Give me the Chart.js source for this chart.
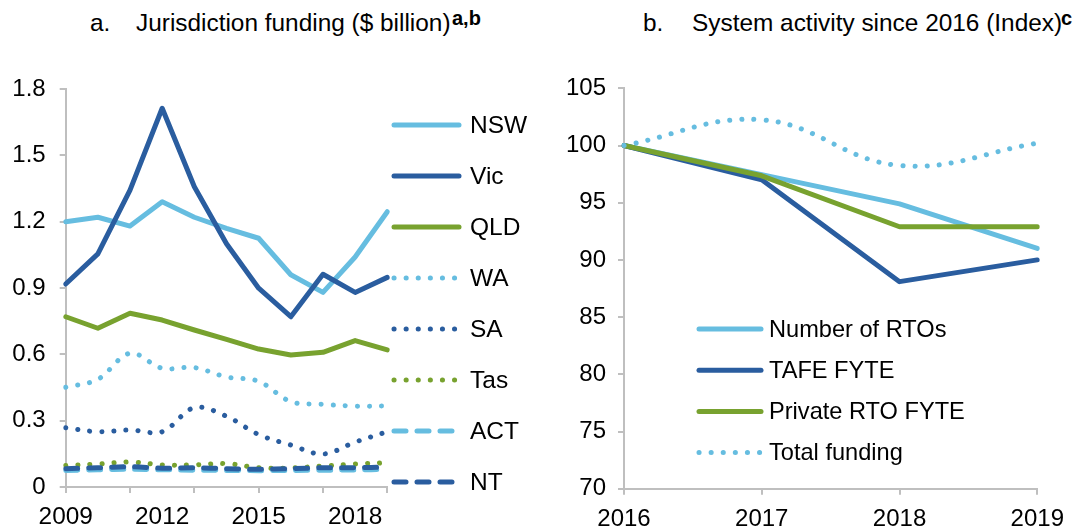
<!DOCTYPE html>
<html>
<head>
<meta charset="utf-8">
<script src="https://cdn.jsdelivr.net/npm/chart.js@4/dist/chart.umd.min.js"></script>
<style>
  html, body { margin: 0; padding: 0; background: #fff; }
  body { width: 1091px; height: 529px; position: relative; overflow: hidden; font-family: 'Liberation Sans', Arial, sans-serif; color: #000; }
  .t { position: absolute; font-size: 24.4px; line-height: 28px; white-space: nowrap; }
  .s { position: absolute; font-size: 20px; font-weight: bold; line-height: 20px; white-space: nowrap; }
  canvas { position: absolute; top: 0; }
</style>
</head>
<body>
<div class="t" style="left:90px; top:9px;">a.</div>
<div class="t" style="left:136px; top:9px;">Jurisdiction funding ($ billion)</div>
<div class="s" style="left:452px; top:8px;">a,b</div>
<div class="t" style="left:643px; top:9px;">b.</div>
<div class="t" style="left:692px; top:9px;">System activity since 2016 (Index)</div>
<div class="s" style="left:1061px; top:8px;">c</div>

<canvas id="left" width="545" height="529" style="left:0; width:545px; height:529px;"></canvas>
<canvas id="right" width="546" height="529" style="left:545px; width:546px; height:529px;"></canvas>

<script>
// ---------- Data ----------
const years = ['2009','2010','2011','2012','2013','2014','2015','2016','2017','2018','2019'];
const nsw = [1.20, 1.22, 1.18, 1.29, 1.22, 1.17, 1.125, 0.96, 0.88, 1.04, 1.245];
const vic = [0.918, 1.054, 1.343, 1.713, 1.358, 1.10, 0.899, 0.77, 0.962, 0.88, 0.948];
const qld = [0.77, 0.718, 0.786, 0.755, 0.71, 0.668, 0.624, 0.597, 0.609, 0.662, 0.62];
const wa  = [0.451, 0.487, 0.605, 0.537, 0.54, 0.4975, 0.478, 0.386, 0.374, 0.366, 0.366];
const sa  = [0.268, 0.25, 0.258, 0.25, 0.359, 0.32, 0.237, 0.19, 0.149, 0.203, 0.25];
const tas = [0.097, 0.104, 0.113, 0.1, 0.1, 0.106, 0.087, 0.086, 0.095, 0.104, 0.11];
const act = [0.075, 0.078, 0.08, 0.078, 0.076, 0.075, 0.074, 0.075, 0.076, 0.077, 0.08];
const nt  = [0.083, 0.087, 0.092, 0.085, 0.087, 0.083, 0.08, 0.083, 0.087, 0.087, 0.09];
const leftTicks = [0, 0.3, 0.6, 0.9, 1.2, 1.5, 1.8];

const years2 = ['2016','2017','2018','2019'];
const numRTOs    = [100, 97.45, 94.9, 91.0];
const tafeFYTE   = [100, 97.0, 88.1, 90.0];
const privateRTO = [100, 97.35, 92.9, 92.9];
const totalFund  = [100, 102.25, 98.25, 100.2];
const rightTicks = [70, 75, 80, 85, 90, 95, 100, 105];

// ---------- Styles ----------
const LIGHT = '#66BDE0';
const DARK  = '#2A5D9F';
const GREEN = '#78A22F';
const AXIS  = '#BFBFBF';
const FONT  = "'Liberation Sans', Arial, sans-serif";
const DOT = [0.1, 12];
const DASH = [12, 11];

Chart.defaults.font.family = FONT;
Chart.defaults.font.size = 24;
Chart.defaults.color = '#000';

function ds(label, data, color, dash, tension) {
  return {
    label, data, borderColor: color, backgroundColor: color,
    borderWidth: 5, borderDash: dash || [], borderCapStyle: 'round', borderJoinStyle: 'round',
    pointRadius: 0, pointHoverRadius: 0, tension: tension || 0, fill: false
  };
}

function legendPlugin(cfg) {
  return {
    id: 'customLegend',
    afterDraw(chart) {
      const ctx = chart.ctx;
      chart.data.datasets.forEach((d, i) => {
        const y = cfg.y0 + cfg.dy * i;
        ctx.save();
        ctx.strokeStyle = d.borderColor;
        ctx.lineWidth = d.borderWidth;
        ctx.lineCap = 'round';
        ctx.setLineDash(d.borderDash || []);
        ctx.beginPath();
        ctx.moveTo(cfg.x0, y);
        ctx.lineTo(cfg.x1, y);
        ctx.stroke();
        ctx.setLineDash([]);
        ctx.fillStyle = '#000';
        ctx.font = cfg.size + 'px ' + FONT;
        ctx.textAlign = 'left';
        ctx.textBaseline = 'middle';
        ctx.fillText(d.label, cfg.tx, y + 1);
        ctx.restore();
      });
    }
  };
}

function orderTop(list) {
  list.forEach((d, i) => d.order = -i);
  return list;
}

// ---------- Left chart ----------
new Chart(document.getElementById('left'), {
  type: 'line',
  data: {
    labels: years,
    datasets: orderTop([
      ds('NSW', nsw, LIGHT),
      ds('Vic', vic, DARK),
      ds('QLD', qld, GREEN),
      ds('WA', wa, LIGHT, DOT, 0.35),
      ds('SA', sa, DARK, DOT, 0.35),
      ds('Tas', tas, GREEN, DOT, 0.35),
      ds('ACT', act, LIGHT, DASH, 0.3),
      ds('NT', nt, DARK, DASH, 0.3)
    ])
  },
  options: {
    responsive: false, animation: false, events: [],
    layout: { padding: { left: 0, top: 89, right: 157.7, bottom: 0 } },
    plugins: { legend: { display: false }, tooltip: { enabled: false } },
    scales: {
      x: {
        type: 'category', offset: false,
        border: { display: true, color: AXIS, width: 2 },
        grid: { drawOnChartArea: false, drawTicks: true, tickLength: 6, lineWidth: 2,
                tickColor: (c) => (c.index % 2 === 0 ? AXIS : 'rgba(0,0,0,0)') },
        ticks: { autoSkip: false, maxRotation: 0, padding: 10, font: { size: 24.4 },
                 callback: function(v, i) { return i % 3 === 0 ? this.getLabelForValue(v) : ''; } },
        afterFit: (s) => { s.height = 42; }
      },
      y: {
        min: 0, max: 1.8,
        afterBuildTicks: (s) => { s.ticks = leftTicks.map(v => ({ value: v })); },
        border: { display: true, color: AXIS, width: 2 },
        grid: { drawOnChartArea: false, drawTicks: true, tickLength: 6, lineWidth: 2, tickColor: AXIS },
        ticks: { padding: 14, callback: (v) => (v === 0 ? '0' : v.toFixed(1)) },
        afterFit: (s) => { s.width = 65.7; }
      }
    }
  },
  plugins: [legendPlugin({ x0: 394, x1: 459, tx: 470, y0: 125, dy: 51, size: 24.5 })]
});

// ---------- Right chart ----------
new Chart(document.getElementById('right'), {
  type: 'line',
  data: {
    labels: years2,
    datasets: orderTop([
      ds('Number of RTOs', numRTOs, LIGHT),
      ds('TAFE FYTE', tafeFYTE, DARK),
      ds('Private RTO FYTE', privateRTO, GREEN),
      ds('Total funding', totalFund, LIGHT, DOT, 0.4)
    ])
  },
  options: {
    responsive: false, animation: false, events: [],
    layout: { padding: { left: 0, top: 88.3, right: 53.7, bottom: 0 } },
    plugins: { legend: { display: false }, tooltip: { enabled: false } },
    scales: {
      x: {
        type: 'category', offset: false,
        border: { display: true, color: AXIS, width: 2 },
        grid: { drawOnChartArea: false, drawTicks: true, tickLength: 6, lineWidth: 2, tickColor: AXIS },
        ticks: { autoSkip: false, maxRotation: 0, padding: 10 },
        afterFit: (s) => { s.height = 40.3; }
      },
      y: {
        min: 70, max: 105,
        afterBuildTicks: (s) => { s.ticks = rightTicks.map(v => ({ value: v })); },
        border: { display: true, color: AXIS, width: 2 },
        grid: { drawOnChartArea: false, drawTicks: true, tickLength: 6, lineWidth: 2, tickColor: AXIS },
        ticks: { padding: 12 },
        afterFit: (s) => { s.width = 79; }
      }
    }
  },
  plugins: [legendPlugin({ x0: 154, x1: 216, tx: 224, y0: 329, dy: 41.2, size: 23.6 })]
});
</script>
</body>
</html>
